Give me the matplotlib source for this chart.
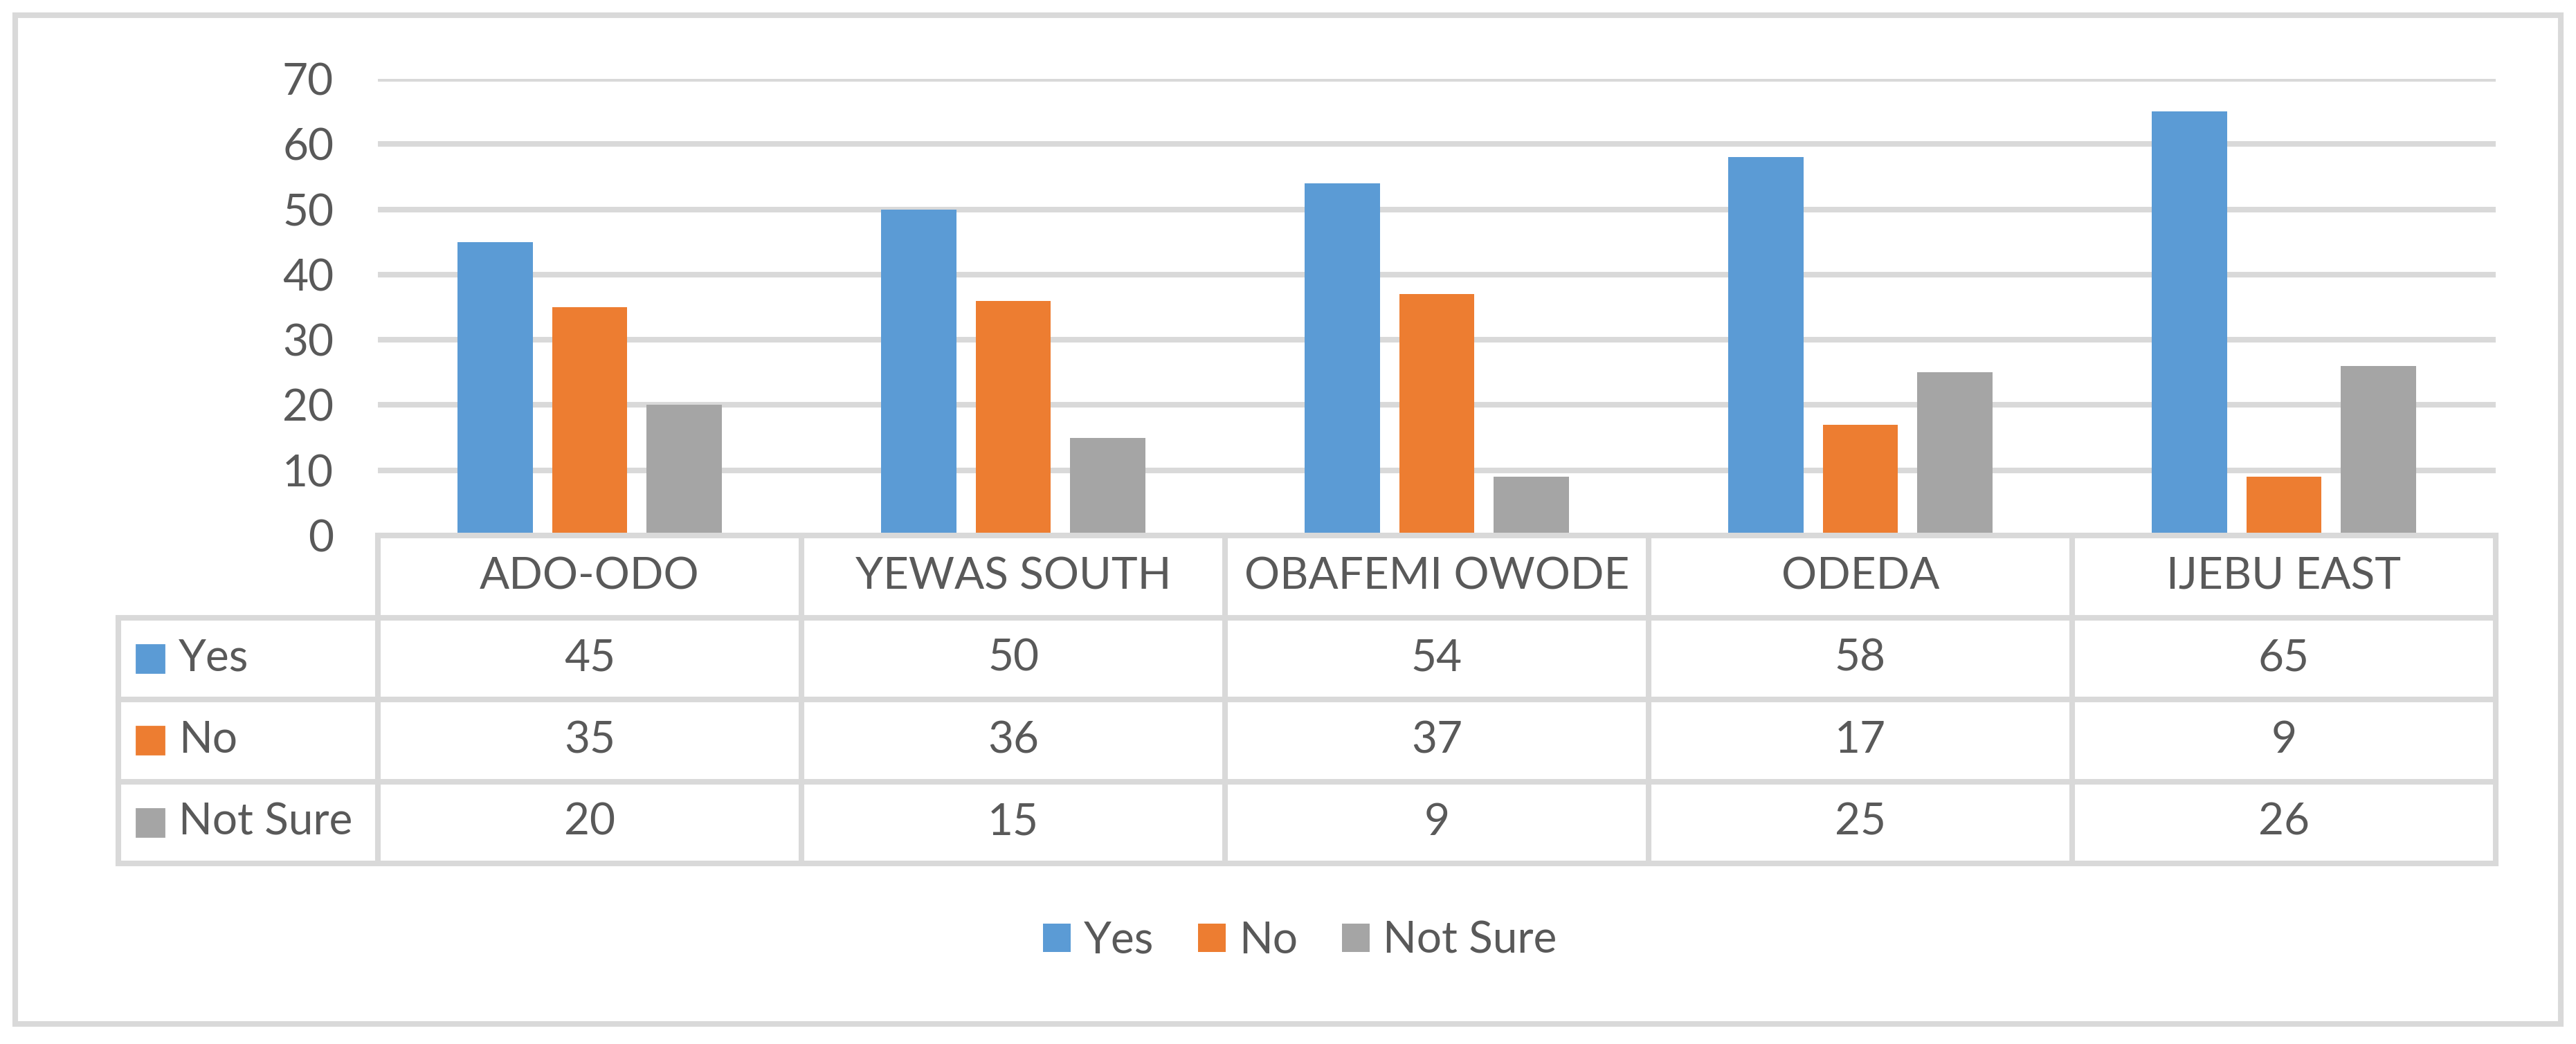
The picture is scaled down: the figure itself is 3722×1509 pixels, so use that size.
import matplotlib
matplotlib.use("Agg")
import matplotlib.pyplot as plt
from matplotlib.patches import Rectangle
import numpy as np

categories = ["ADO-ODO", "YEWAS SOUTH", "OBAFEMI OWODE", "ODEDA", "IJEBU EAST"]
series = ["Yes", "No", "Not Sure"]
yes = [45, 50, 54, 58, 65]
no = [35, 36, 37, 17, 9]
not_sure = [20, 15, 9, 25, 26]
colors = ["#5B9BD5", "#ED7D31", "#A5A5A5"]
yticks = [0, 10, 20, 30, 40, 50, 60, 70]

W, H = 3722, 1509
DPI = 200
GRID = "#D9D9D9"
TXT = "#595959"
FS = 23
LW = 2.9

plt.rcParams["font.family"] = ["Lato", "DejaVu Sans"]


def fx(px):
    return px / W


def fy(py):
    return 1 - py / H


fig = plt.figure(figsize=(W / DPI, H / DPI), dpi=DPI)

# outer chart border
fig.add_artist(Rectangle((fx(22), fy(1480)), fx(3700) - fx(22), fy(22) - fy(1480),
                         transform=fig.transFigure, fill=False, edgecolor=GRID, linewidth=LW))

# plot area
x0, x1, ytop, ybot = 546, 3606, 114, 774
ax = fig.add_axes([fx(x0), fy(ybot), (x1 - x0) / W, (ybot - ytop) / H])
x = np.arange(len(categories))
w = 0.178
step = 0.223
values = [yes, no, not_sure]
bars = []
for i, (name, vals) in enumerate(zip(series, values)):
    b = ax.bar(x + (i - 1) * step, vals, width=w, color=colors[i], label=name, zorder=3)
    bars.append(b)
ax.set_xlim(-0.5, len(categories) - 0.5)
ax.set_ylim(0, 70)
ax.set_yticks(yticks)
ax.set_xticks([])
ax.yaxis.grid(True, color=GRID, linewidth=LW)
ax.set_axisbelow(True)
for s in ax.spines.values():
    s.set_visible(False)
ax.tick_params(axis="y", length=0, pad=23, labelsize=FS, labelcolor=TXT)

# data table under the plot
tleft, tbot = 171, 1248
head_w = (x0 - tleft) / ((x1 - x0) / len(categories))
tab = fig.add_axes([fx(tleft), fy(tbot), (x1 - tleft) / W, (tbot - ybot) / H])
tab.set_xlim(-0.5 - head_w, len(categories) - 0.5)
tab.set_ylim(0, 4)
tab.axis("off")
lkw = dict(color=GRID, linewidth=LW, clip_on=False, solid_capstyle="projecting")
tab.plot([-0.5, len(categories) - 0.5], [4, 4], **lkw)
for yy in [3, 2, 1, 0]:
    tab.plot([-0.5 - head_w, len(categories) - 0.5], [yy, yy], **lkw)
for k in range(len(categories) + 1):
    tab.plot([k - 0.5, k - 0.5], [0, 4], **lkw)
tab.plot([-0.5 - head_w, -0.5 - head_w], [0, 3], **lkw)

for j, c in enumerate(categories):
    tab.text(j, 3.5, c, ha="center", va="center", fontsize=FS, color=TXT)

unit = (x1 - x0) / len(categories)
row_h = (tbot - ybot) / 4
for r, (name, vals) in enumerate(zip(series, values)):
    yc = 2.5 - r
    mx = -0.5 - head_w + (197 - tleft) / unit
    tab.add_patch(Rectangle((mx, yc - 20 / row_h), 40 / unit, 40 / row_h,
                            color=colors[r], clip_on=False))
    tab.text(-0.5 - head_w + (258 - tleft) / unit, yc, name, ha="left", va="center",
             fontsize=FS, color=TXT)
    for j, v in enumerate(vals):
        tab.text(j, yc, str(v), ha="center", va="center", fontsize=FS, color=TXT)

# legend
fig.legend(handles=bars, labels=series, loc="center", bbox_to_anchor=(fx(1878), fy(1360)),
           ncol=3, frameon=False, fontsize=FS, labelcolor=TXT,
           handlelength=0.625, handleheight=0.625, handletextpad=0.3, columnspacing=1.0)

fig.savefig("out.png", dpi=DPI, facecolor="white")
